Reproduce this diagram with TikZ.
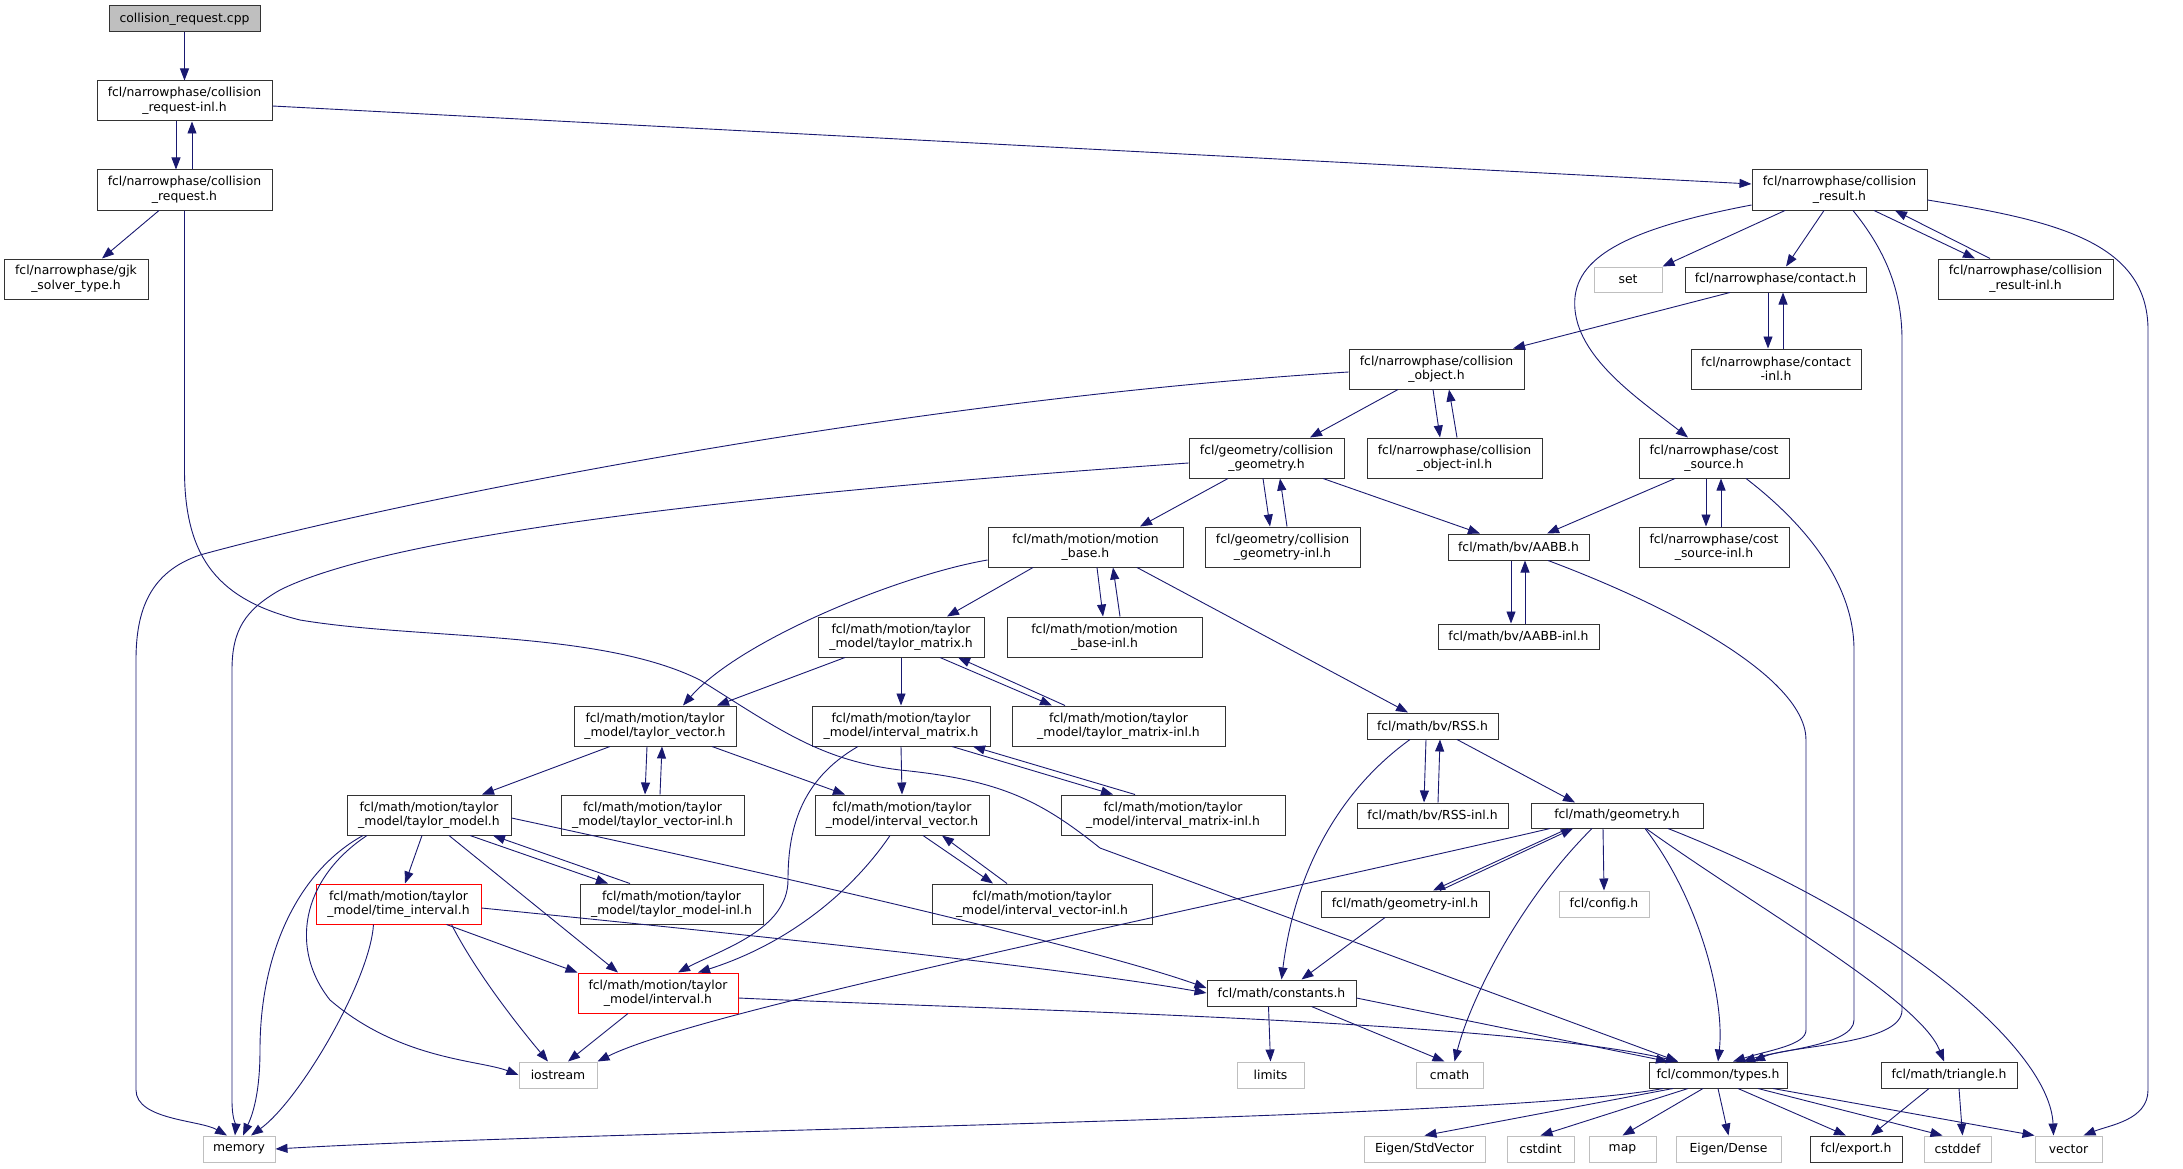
\documentclass[tikz,border=0pt]{standalone}
\usepackage{fontspec}
\setmainfont{DejaVu Sans}
\usetikzlibrary{arrows.meta}
\definecolor{edgecol}{RGB}{25,25,112}
\definecolor{grayb}{RGB}{191,191,191}
\newcommand\nd[7]{\node[#1, minimum width={(#5-#3)*1pt}, minimum height={(#6-#4)*1pt}] (#2) at ({(#3+#5)/2},{(#4+#6)/2}) {#7};}
\begin{document}
\begin{tikzpicture}[x=1pt,y=-1pt, font=\fontsize{12.4}{14.5}\selectfont,
  box/.style={draw=black!80, line width=1pt, inner sep=0pt, align=center, fill=white},
  gbox/.style={box, draw=grayb},
  rbox/.style={box, draw=red},
  cbox/.style={box, fill=grayb},
  edge/.style={draw=edgecol, line width=0.9pt, -{Triangle[length=12pt,width=9pt]}}]
\useasboundingbox (0,0) rectangle (2183,1169);
% nodes
\nd{cbox}{cpp}{109}{6}{260}{32}{collision\_request.cpp}
\nd{box}{reqinl}{97}{81}{272}{121}{fcl/narrowphase/collision\\\_request-inl.h}
\nd{box}{reqh}{97}{170}{272}{210}{fcl/narrowphase/collision\\\_request.h}
\nd{box}{gjk}{4}{259}{148}{299}{fcl/narrowphase/gjk\\\_solver\_type.h}
\nd{box}{resh}{1752}{170}{1927}{210}{fcl/narrowphase/collision\\\_result.h}
\nd{gbox}{set}{1594}{267}{1662}{292}{set}
\nd{box}{contact}{1685}{267}{1866}{292}{fcl/narrowphase/contact.h}
\nd{box}{resinl}{1938}{259}{2113}{299}{fcl/narrowphase/collision\\\_result-inl.h}
\nd{box}{cobj}{1349}{349}{1524}{389}{fcl/narrowphase/collision\\\_object.h}
\nd{box}{continl}{1691}{349}{1861}{389}{fcl/narrowphase/contact\\-inl.h}
\nd{box}{cgeom}{1189}{438}{1344}{478}{fcl/geometry/collision\\\_geometry.h}
\nd{box}{cobjinl}{1367}{438}{1542}{478}{fcl/narrowphase/collision\\\_object-inl.h}
\nd{box}{cost}{1639}{438}{1789}{478}{fcl/narrowphase/cost\\\_source.h}
\nd{box}{mbase}{988}{527}{1183}{567}{fcl/math/motion/motion\\\_base.h}
\nd{box}{cgeominl}{1205}{527}{1360}{567}{fcl/geometry/collision\\\_geometry-inl.h}
\nd{box}{aabb}{1448}{534}{1589}{560}{fcl/math/bv/AABB.h}
\nd{box}{costinl}{1639}{527}{1789}{567}{fcl/narrowphase/cost\\\_source-inl.h}
\nd{box}{tmat}{818}{617}{984}{657}{fcl/math/motion/taylor\\\_model/taylor\_matrix.h}
\nd{box}{mbaseinl}{1007}{617}{1202}{657}{fcl/math/motion/motion\\\_base-inl.h}
\nd{box}{aabbinl}{1438}{624}{1599}{649}{fcl/math/bv/AABB-inl.h}
\nd{box}{tvec}{574}{706}{736}{746}{fcl/math/motion/taylor\\\_model/taylor\_vector.h}
\nd{box}{imat}{812}{706}{990}{746}{fcl/math/motion/taylor\\\_model/interval\_matrix.h}
\nd{box}{tmatinl}{1012}{706}{1225}{746}{fcl/math/motion/taylor\\\_model/taylor\_matrix-inl.h}
\nd{box}{rss}{1367}{713}{1498}{739}{fcl/math/bv/RSS.h}
\nd{box}{tmodel}{347}{795}{511}{835}{fcl/math/motion/taylor\\\_model/taylor\_model.h}
\nd{box}{tvecinl}{561}{795}{744}{835}{fcl/math/motion/taylor\\\_model/taylor\_vector-inl.h}
\nd{box}{ivec}{815}{795}{989}{835}{fcl/math/motion/taylor\\\_model/interval\_vector.h}
\nd{box}{imatinl}{1061}{795}{1285}{835}{fcl/math/motion/taylor\\\_model/interval\_matrix-inl.h}
\nd{box}{rssinl}{1357}{803}{1508}{828}{fcl/math/bv/RSS-inl.h}
\nd{box}{geom}{1531}{803}{1703}{828}{fcl/math/geometry.h}
\nd{rbox}{tint}{316}{884}{481}{924}{fcl/math/motion/taylor\\\_model/time\_interval.h}
\nd{box}{tmodelinl}{580}{884}{763}{924}{fcl/math/motion/taylor\\\_model/taylor\_model-inl.h}
\nd{box}{ivecinl}{932}{884}{1152}{924}{fcl/math/motion/taylor\\\_model/interval\_vector-inl.h}
\nd{box}{geominl}{1321}{891}{1489}{917}{fcl/math/geometry-inl.h}
\nd{gbox}{config}{1559}{891}{1649}{917}{fcl/config.h}
\nd{rbox}{interval}{578}{973}{738}{1013}{fcl/math/motion/taylor\\\_model/interval.h}
\nd{box}{constants}{1207}{980}{1356}{1006}{fcl/math/constants.h}
\nd{gbox}{iostream}{519}{1062}{597}{1088}{iostream}
\nd{gbox}{limits}{1237}{1062}{1304}{1088}{limits}
\nd{gbox}{cmath}{1416}{1062}{1483}{1088}{cmath}
\nd{box}{types}{1649}{1062}{1787}{1088}{fcl/common/types.h}
\nd{box}{triangle}{1881}{1062}{2017}{1088}{fcl/math/triangle.h}
\nd{gbox}{memory}{203}{1136}{275}{1162}{memory}
\nd{gbox}{eigsv}{1364}{1136}{1485}{1162}{Eigen/StdVector}
\nd{gbox}{cstdint}{1507}{1136}{1574}{1162}{cstdint}
\nd{gbox}{map}{1589}{1136}{1656}{1162}{map}
\nd{gbox}{eigd}{1676}{1136}{1781}{1162}{Eigen/Dense}
\nd{box}{export}{1810}{1136}{1902}{1162}{fcl/export.h}
\nd{gbox}{cstddef}{1924}{1136}{1991}{1162}{cstddef}
\nd{gbox}{vector}{2035}{1136}{2102}{1162}{vector}
% edges
\draw[edge] (cpp.south) -- (reqinl.north);
\draw[edge] ([xshift=-8.5pt]reqinl.south) -- ([xshift=-8.5pt]reqh.north);
\draw[edge] ([xshift=7.5pt]reqh.north) -- ([xshift=7.5pt]reqinl.south);
\draw[edge] ([xshift=-25.5pt]reqh.south) -- ([xshift=26pt]gjk.north);
\draw[edge] ([yshift=-5pt]reqinl.east) -- ([yshift=6pt]resh.west);
\draw[edge] (reqh.south) -- (184.5,470) .. controls (184.5,560) and (220,600) .. (300,620) .. controls (420,640) and (600,630) .. (700,680) .. controls (780,730) and (820,760) .. (900,770) .. controls (1000,780) and (1040,800) .. (1100,848) -- ([xshift=-40pt]types.north);
\draw[edge] ([xshift=-54.5pt]resh.south) -- (set.north east);
\draw[edge] ([xshift=-15.5pt]resh.south) -- ([xshift=10.5pt]contact.north);
\draw[edge] ([xshift=34.5pt]resh.south) -- ([xshift=-50.5pt]resinl.north);
\draw[edge] ([xshift=-35.5pt]resinl.north) -- ([xshift=55.5pt]resh.south);
\draw[edge] ([yshift=-10pt]resh.east) .. controls (2050,220) and (2148,240) .. (2148,330) -- (2148,1090) .. controls (2148,1120) and (2110,1125) .. ([xshift=15pt]vector.north);
\draw[edge] ([xshift=13.5pt]resh.south) .. controls (1885,250) and (1902,290) .. (1902,340) -- (1902,1010) .. controls (1902,1045) and (1790,1045) .. ([xshift=35pt]types.north);
\draw[edge] ([yshift=-15pt]resh.west) .. controls (1620,230) and (1570,260) .. (1575,310) .. controls (1580,360) and (1640,400) .. ([xshift=-26pt]cost.north);
\draw[edge] ([xshift=-45.5pt]contact.south) -- ([xshift=76.5pt]cobj.north);
\draw[edge] ([xshift=-7.5pt]contact.south) -- ([xshift=-8pt]continl.north);
\draw[edge] ([xshift=7pt]continl.north) -- ([xshift=7.5pt]contact.south);
\draw[edge] ([yshift=-3pt]cobj.west) .. controls (900,400) and (400,500) .. (200,555) .. controls (150,572) and (136,610) .. (136,660) -- (136,1090) .. controls (136,1120) and (200,1120) .. ([xshift=-12pt]memory.north);
\draw[edge] ([xshift=-38.5pt]cobj.south) -- ([xshift=43.5pt]cgeom.north);
\draw[edge] ([xshift=-3.5pt]cobj.south) -- ([xshift=-14.5pt]cobjinl.north);
\draw[edge] ([xshift=2.5pt]cobjinl.north) -- ([xshift=12.5pt]cobj.south);
\draw[edge] ([yshift=-5pt]cgeom.west) .. controls (800,490) and (400,530) .. (280,590) .. controls (245,610) and (232,630) .. (232,670) -- (232,1100) .. controls (232,1120) and (236,1125) .. ([xshift=-4pt]memory.north);
\draw[edge] ([xshift=-38.5pt]cgeom.south) -- ([xshift=54.5pt]mbase.north);
\draw[edge] ([xshift=-3.5pt]cgeom.south) -- ([xshift=-12.5pt]cgeominl.north);
\draw[edge] ([xshift=4.5pt]cgeominl.north) -- ([xshift=13.5pt]cgeom.south);
\draw[edge] ([xshift=56.5pt]cgeom.south) -- ([xshift=-38.5pt]aabb.north);
\draw[edge] ([xshift=-39pt]cost.south) -- ([xshift=28.5pt]aabb.north);
\draw[edge] ([xshift=-8pt]cost.south) -- ([xshift=-8pt]costinl.north);
\draw[edge] ([xshift=7pt]costinl.north) -- ([xshift=7pt]cost.south);
\draw[edge] ([xshift=32pt]cost.south) .. controls (1800,520) and (1854,580) .. (1854,650) -- (1854,1020) .. controls (1854,1045) and (1780,1050) .. ([xshift=25pt]types.north);
\draw[edge] ([xshift=-7.5pt]aabb.south) -- ([xshift=-7.5pt]aabbinl.north);
\draw[edge] ([xshift=6.5pt]aabbinl.north) -- ([xshift=6.5pt]aabb.south);
\draw[edge] ([xshift=29.5pt]aabb.south) .. controls (1680,610) and (1806,680) .. (1806,740) -- (1806,1030) .. controls (1806,1045) and (1770,1050) .. ([xshift=15pt]types.north);
\draw[edge] ([xshift=11.5pt]mbase.south) -- ([xshift=-1.5pt]mbaseinl.north);
\draw[edge] ([xshift=15.5pt]mbaseinl.north) -- ([xshift=27.5pt]mbase.south);
\draw[edge] ([xshift=-52.5pt]mbase.south) -- ([xshift=46pt]tmat.north);
\draw[edge] ([yshift=-13pt]mbase.west) .. controls (900,575) and (740,640) .. ([xshift=28pt]tvec.north);
\draw[edge] ([xshift=51.5pt]mbase.south) -- ([xshift=-24.5pt]rss.north);
\draw[edge] ([xshift=-56pt]tmat.south) -- ([xshift=62pt]tvec.north);
\draw[edge] (tmat.south) -- (imat.north);
\draw[edge] ([xshift=39pt]tmat.south) -- ([xshift=-66.5pt]tmatinl.north);
\draw[edge] ([xshift=-53.5pt]tmatinl.north) -- ([xshift=57pt]tmat.south);
\draw[edge] ([xshift=-8pt]tvec.south) -- ([xshift=-7.5pt]tvecinl.north);
\draw[edge] ([xshift=7.5pt]tvecinl.north) -- ([xshift=7pt]tvec.south);
\draw[edge] ([xshift=57pt]tvec.south) -- ([xshift=-57pt]ivec.north);
\draw[edge] ([xshift=-45pt]tvec.south) -- ([xshift=53pt]tmodel.north);
\draw[edge] (imat.south) -- (ivec.north);
\draw[edge] ([xshift=51pt]imat.south) -- ([xshift=-60pt]imatinl.north);
\draw[edge] ([xshift=-38pt]imatinl.north) -- ([xshift=72pt]imat.south);
\draw[edge] ([xshift=-43pt]imat.south) .. controls (800,780) and (788,830) .. (788,880) .. controls (788,930) and (720,950) .. ([xshift=20pt]interval.north);
\draw[edge] ([xshift=-12pt]ivec.south) .. controls (860,880) and (800,940) .. ([xshift=40pt]interval.north);
\draw[edge] ([xshift=21pt]ivec.south) -- ([xshift=-49pt]ivecinl.north);
\draw[edge] ([xshift=-35pt]ivecinl.north) -- ([xshift=40pt]ivec.south);
\draw[edge] ([xshift=41pt]tmodel.south) -- ([xshift=-63.5pt]tmodelinl.north);
\draw[edge] ([xshift=-41.5pt]tmodelinl.north) -- ([xshift=64pt]tmodel.south);
\draw[edge] ([yshift=-3pt]tmodel.east) .. controls (800,880) and (1100,950) .. ([yshift=5pt]constants.west);
\draw[edge] ([xshift=-7pt]tmodel.south) -- ([xshift=6.5pt]tint.north);
\draw[edge] ([xshift=20pt]tmodel.south) -- ([xshift=-40pt]interval.north);
\draw[edge] ([xshift=-66pt]tmodel.south) .. controls (300,870) and (260,950) .. (260,1050) .. controls (260,1100) and (250,1120) .. ([xshift=4pt]memory.north);
\draw[edge] ([xshift=-62pt]tmodel.south) .. controls (300,880) and (290,950) .. (330,1000) .. controls (400,1060) and (480,1060) .. (iostream.west);
\draw[edge] ([xshift=-25pt]tint.south) .. controls (370,980) and (300,1100) .. ([xshift=12pt]memory.north);
\draw[edge] ([xshift=-30pt]tint.east |- tint.south) .. controls (480,980) and (530,1040) .. ([xshift=-10pt]iostream.north);
\draw[edge] ([xshift=-35pt]tint.south east) -- (interval.north west);
\draw[edge] ([yshift=-4pt]tint.east) .. controls (650,925) and (1050,965) .. (constants.west);
\draw[edge] ([xshift=-30pt]interval.south) -- ([xshift=10pt]iostream.north);
\draw[edge] ([yshift=-5pt]interval.east) .. controls (1000,1010) and (1500,1020) .. ([xshift=-40pt]types.north);
\draw[edge] ([xshift=-6.5pt]rss.south) -- ([xshift=-8.5pt]rssinl.north);
\draw[edge] ([xshift=5.5pt]rssinl.north) -- ([xshift=7.5pt]rss.south);
\draw[edge] ([xshift=24.5pt]rss.south) -- ([xshift=-42pt]geom.north);
\draw[edge] ([xshift=-22.5pt]rss.south) .. controls (1340,790) and (1295,870) .. (constants.north);
\draw[edge] ([xshift=-49pt]geom.south) -- ([xshift=28pt]geominl.north);
\draw[edge] ([xshift=35pt]geominl.north) -- ([xshift=-44pt]geom.south);
\draw[edge] ([xshift=-67pt]geom.south) .. controls (1200,910) and (700,1010) .. (iostream.north east);
\draw[edge] ([xshift=-25pt]geom.south) .. controls (1520,900) and (1470,1000) .. ([xshift=5pt]cmath.north);
\draw[edge] ([xshift=-14pt]geom.south) -- (config.north);
\draw[edge] ([xshift=28pt]geom.south) .. controls (1700,900) and (1725,1000) .. (types.north);
\draw[edge] ([xshift=29pt]geom.south) .. controls (1760,910) and (1920,1000) .. ([xshift=-5pt]triangle.north);
\draw[edge] ([xshift=51pt]geom.south) .. controls (1900,920) and (2050,1050) .. ([xshift=-15pt]vector.north);
\draw[edge] ([xshift=-20pt]geominl.south) -- ([xshift=20pt]constants.north);
\draw[edge] ([xshift=-13pt]constants.south) -- (limits.north);
\draw[edge] ([xshift=30pt]constants.south) -- ([xshift=-5pt]cmath.north);
\draw[edge] ([yshift=-5pt]constants.east) -- ([xshift=-50pt]types.north);
\draw[edge] ([xshift=-55pt]types.south) .. controls (1500,1120) and (600,1130) .. (memory.east);
\draw[edge] ([xshift=-45pt]types.south) -- (eigsv.north);
\draw[edge] ([xshift=-30pt]types.south) -- (cstdint.north);
\draw[edge] ([xshift=-15pt]types.south) -- (map.north);
\draw[edge] (types.south) -- (eigd.north);
\draw[edge] ([xshift=20pt]types.south) -- ([xshift=-10pt]export.north);
\draw[edge] ([xshift=40pt]types.south) -- ([xshift=-15pt]cstddef.north);
\draw[edge] ([xshift=55pt]types.south) -- (vector.north west);
\draw[edge] ([xshift=-20pt]triangle.south) -- ([xshift=15pt]export.north);
\draw[edge] ([xshift=10pt]triangle.south) -- ([xshift=5pt]cstddef.north);
\end{tikzpicture}
\end{document}
